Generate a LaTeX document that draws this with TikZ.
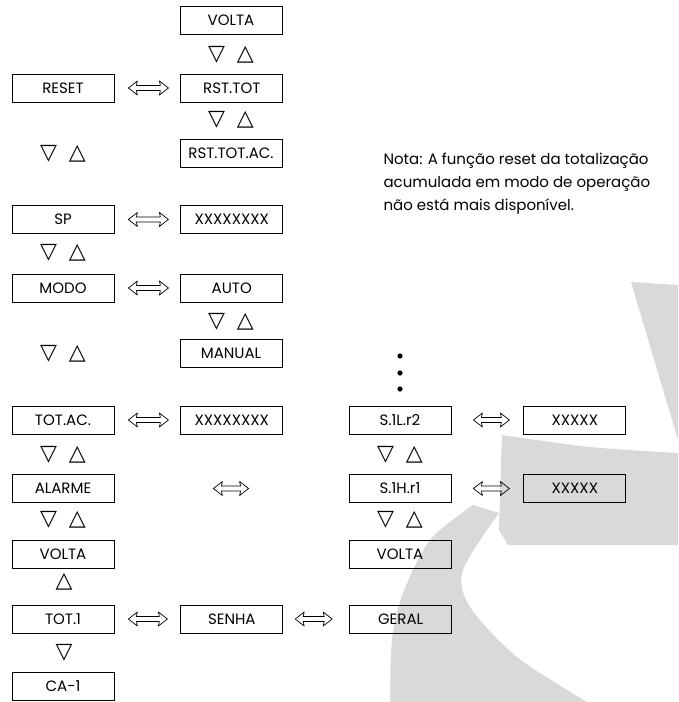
\documentclass[tikz,border=0pt]{standalone}
\usepackage{fontspec}
\setmainfont{Poppins}
\newfontfamily\symfont{DejaVu Sans}
\usetikzlibrary{calc,positioning}

\tikzset{
  menubox/.style={draw, line width=0.8pt, minimum width=102pt,
    minimum height=28pt, inner sep=0pt, font=\fontsize{15}{17}\selectfont},
  keys/.style={inner sep=0pt, font=\symfont\fontsize{22}{22}\selectfont},
  swap/.style 2 args={line width=0.7pt, line join=round, to path={
    ($(\tikztostart.east)+(#1,0)$) -- ++(9,7) -- ++(-1,-4.5)
    -- ($(\tikztotarget.west)+(-#2-8,2.5)$) -- ++(-1,4.5)
    -- ($(\tikztotarget.west)+(-#2,0)$) -- ++(-9,-7) -- ++(1,4.5)
    -- ($(\tikztostart.east)+(#1+8,-2.5)$) -- ++(1,-4.5) -- cycle}},
  watermark/.style={fill=black!15},
}

\begin{document}
\begin{tikzpicture}[x=1pt, y=-1pt]
  \useasboundingbox (0,0) rectangle (678,702);
  % grey background marks
  \fill[watermark] (631,282) -- (678,285) -- (678,440) -- cycle;
  \fill[watermark] (502,435) -- plot[smooth] coordinates
    {(502,435) (590,447) (678,453)}
    -- (678,545) -- (508,545) -- (499,530) -- cycle;
  \fill[watermark] (473,505) -- plot[smooth] coordinates
    {(499,513) (463,570) (470,607) (517,657) (587,702)}
    -- (390,702) -- plot[smooth] coordinates
    {(390,702) (392,640) (403,593) (430,540) (473,505)} -- cycle;

  % left column
  \node (reset) [menubox] at (63,88) {RESET};
  \node (sp) [menubox] at (63,219.5) {SP};
  \node (modo) [menubox] at (63,288) {MODO};
  \node (totac) [menubox] at (63,420) {TOT.AC.};
  \node (alarme) [menubox] at (63,488.5) {ALARME};
  \node (voltab) [menubox] at (63,554) {VOLTA};
  \node (tot1) [menubox] at (63,619) {TOT.1};
  \node (ca1) [menubox] at (63,686.5) {CA-1};

  % middle column
  \node (voltaa) [menubox] at (231,20) {VOLTA};
  \node (rsttot) [menubox, right = 66pt of reset] {RST.TOT};
  \node (rsttotac) [menubox] at (231,153.5) {RST.TOT.AC.};
  \node (spval) [menubox, right = 66pt of sp] {XXXXXXXX};
  \node (auto) [menubox, right = 66pt of modo] {AUTO};
  \node (manual) [menubox] at (231,353.5) {MANUAL};
  \node (totacval) [menubox, right = 66pt of totac] {XXXXXXXX};
  \node (senha) [menubox, right = 66pt of tot1] {SENHA};

  % right columns
  \node (lr2) [menubox] at (400,420) {S.1L.r2};
  \node (hr1) [menubox] at (400,488.5) {S.1H.r1};
  \node (voltac) [menubox] at (400,554) {VOLTA};
  \node (geral) [menubox, right = 66pt of senha] {GERAL};
  \node (lr2val) [menubox, right = 72pt of lr2] {XXXXX};
  \node (hr1val) [menubox, right = 72pt of hr1] {XXXXX};
  \fill (400,356) circle (2.6pt);
  \fill (400,373) circle (2.6pt);
  \fill (400,389) circle (2.6pt);

  % keys
  \node (keya) [keys] at (231,55) {▽\hspace{12pt}△};
  \node (keyb) [keys] at (231,120) {▽\hspace{12pt}△};
  \node (keyc) [keys] at (63,154) {▽\hspace{12pt}△};
  \node (keyd) [keys] at (63,253) {▽\hspace{12pt}△};
  \node (keye) [keys] at (231,322) {▽\hspace{12pt}△};
  \node (keyf) [keys] at (63,354) {▽\hspace{12pt}△};
  \node (keyg) [keys] at (63,455) {▽\hspace{12pt}△};
  \node (keyh) [keys] at (400,455) {▽\hspace{12pt}△};
  \node (keyi) [keys] at (63,520) {▽\hspace{12pt}△};
  \node (keyj) [keys] at (400,520) {▽\hspace{12pt}△};
  \node (keyup) [keys] at (64,582) {△};
  \node (keydown) [keys] at (64,653) {▽};

  \node (nota) [anchor=north west, align=left,
    font=\fontsize{15}{23}\selectfont] at (380,150)
    {Nota: A função reset da totalização\\
     acumulada em modo de operação\\
     não está mais disponível.};

  % Draw arrows
  \draw[swap={14}{12}] (reset) to (rsttot);
  \draw[swap={14}{12}] (sp) to (spval);
  \draw[swap={14}{12}] (modo) to (auto);
  \draw[swap={14}{12}] (totac) to (totacval);
  \draw[swap={99}{100}] (alarme) to (hr1);
  \draw[swap={14}{13}] (tot1) to (senha);
  \draw[swap={12}{17}] (senha) to (geral);
  \draw[swap={22}{14}] (lr2) to (lr2val);
  \draw[swap={22}{14}] (hr1) to (hr1val);
\end{tikzpicture}
\end{document}
